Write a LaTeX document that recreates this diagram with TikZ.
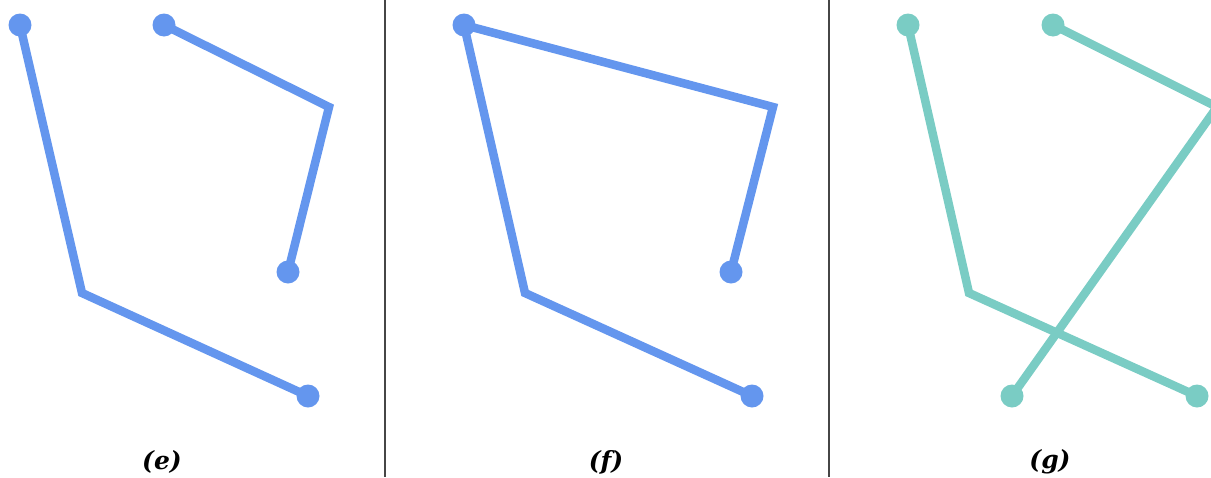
\documentclass[tikz,border=0pt]{standalone}
\usepackage{fontspec}
\setmainfont{DejaVu Serif}
\definecolor{lineblue}{RGB}{100,150,238}
\definecolor{lineteal}{RGB}{122,204,196}
\definecolor{sepgray}{RGB}{70,70,70}
\tikzset{
  seg/.style={line width=8.5pt, line join=miter, line cap=butt},
  dot/.style={circle, inner sep=0pt, minimum size=23pt},
  caption/.style={font=\bfseries\itshape\fontsize{25}{29}\selectfont, inner sep=0pt},
  sep/.style={draw=sepgray, line width=1.2pt}
}
\begin{document}
\begin{tikzpicture}[x=1pt,y=-1pt]
\useasboundingbox (0,0) rectangle (1211,477);
\begin{scope}
\clip (0,0) rectangle (1211,477);
% separators
\coordinate (s1t) at (385,0); \coordinate (s1b) at (385,477);
\coordinate (s2t) at (829,0); \coordinate (s2b) at (829,477);
\draw[sep] (s1t) -- (s1b);
\draw[sep] (s2t) -- (s2b);
% panel e
\coordinate (eA) at (20,25); \coordinate (eB) at (82,293); \coordinate (eC) at (308,396);
\coordinate (eD) at (164,25); \coordinate (eE) at (329,107); \coordinate (eF) at (288,272);
\draw[seg, lineblue] (eA) -- (eB) -- (eC);
\draw[seg, lineblue] (eD) -- (eE) -- (eF);
\foreach \p in {eA,eC,eD,eF} \node[dot, fill=lineblue] at (\p) {};
% panel f
\coordinate (fA) at (464,25); \coordinate (fB) at (525,293); \coordinate (fC) at (752,396);
\coordinate (fE) at (773,107); \coordinate (fF) at (731,272);
\draw[seg, lineblue] (fC) -- (fB) -- (fA) -- (fE) -- (fF);
\foreach \p in {fA,fC,fF} \node[dot, fill=lineblue] at (\p) {};
% panel g
\coordinate (gA) at (908,25); \coordinate (gB) at (969,293); \coordinate (gC) at (1197,396);
\coordinate (gD) at (1053,25); \coordinate (gE) at (1217,107); \coordinate (gF) at (1012,396);
\draw[seg, lineteal] (gA) -- (gB) -- (gC);
\draw[seg, lineteal] (gD) -- (gE) -- (gF);
\foreach \p in {gA,gC,gD,gF} \node[dot, fill=lineteal] at (\p) {};
\end{scope}
% captions
\node[caption] (ce) at (162,462) {(e)};
\node[caption] (cf) at (606,462) {(f)};
\node[caption] (cg) at (1050,462) {(g)};
\end{tikzpicture}
\end{document}
